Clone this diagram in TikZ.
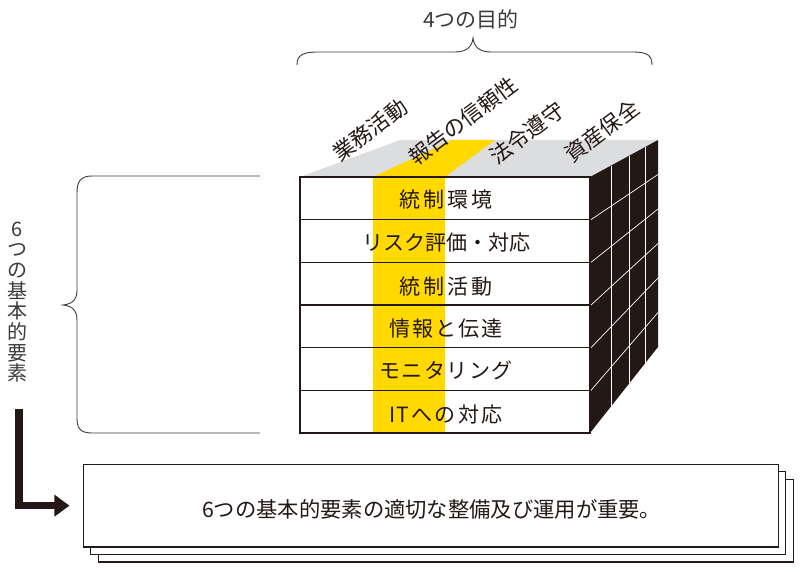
\documentclass[tikz,border=0pt]{standalone}
\usepackage{fontspec}
\setmainfont{Noto Sans CJK JP}
\usetikzlibrary{arrows.meta}
\definecolor{ink}{RGB}{35,24,21}
\definecolor{gline}{RGB}{62,58,57}
\definecolor{topgrey}{RGB}{220,221,222}
\definecolor{band}{RGB}{255,217,0}
\begin{document}
\begin{tikzpicture}[x=1pt,y=-1pt,
  rowline/.style={draw=ink,line width=1.1pt},
  rowtext/.style={font=\fontsize{21}{24}\selectfont,text=ink,inner sep=0pt},
  toplabel/.style={font=\fontsize{21.5}{24}\selectfont,text=ink,rotate=37,inner sep=0pt},
  titletext/.style={font=\fontsize{21}{24}\selectfont,text=gline,inner sep=0pt},
  brace/.style={draw=gline,line width=0.9pt},
  whiteline/.style={draw=white,line width=0.9pt},
  paper/.style={draw=ink,fill=white,line width=1.1pt,minimum width=695pt,minimum height=82.7pt,inner sep=0pt},
  bigarrow/.style={draw=ink,line width=7.5pt,-{Triangle[length=15pt,width=21pt]}}
]
\useasboundingbox (0,0) rectangle (803,572);
% top face
\fill[topgrey] (300,177) -- (400,140) -- (658,140) -- (590,177) -- cycle;
\fill[band] (373,177) -- (452,140) -- (495,140) -- (445,177) -- cycle;
% right face
\fill[ink] (590,177) -- (658,140) -- (658,347) -- (590,433) -- cycle;
\draw[whiteline] (611,165.6) -- (611,406.4);
\draw[whiteline] (629.3,155.6) -- (629.3,383.3);
\draw[whiteline] (645,147.1) -- (645,363.4);
\foreach \k in {1,...,5}
  \draw[whiteline,line width=0.7pt] (591,{177+42.667*\k}) -- (658,{140+34.5*\k});
% front face
\fill[white] (300,177) rectangle (590,433);
\fill[band] (373,177) rectangle (445,433);
\foreach \k in {1,...,5}
  \draw[rowline] (300,{177+42.667*\k}) -- (590,{177+42.667*\k});
\draw[rowline] (300,177) rectangle (590,433);
% row texts
\node[rowtext] (r1) at (446,200) {統\kern3pt 制\kern3pt 環\kern3pt 境};
\node[rowtext] (r2) at (446,242.7) {リスク評価・対応};
\node[rowtext] (r3) at (446,286.7) {統\kern3pt 制\kern3pt 活\kern3pt 動};
\node[rowtext] (r4) at (446,328.3) {情\kern2.2pt 報\kern2.2pt と\kern2.2pt 伝\kern2.2pt 達};
\node[rowtext] (r5) at (446,370) {モ\kern1.6pt ニ\kern1.6pt タ\kern1.6pt リ\kern1.6pt ン\kern1.6pt グ};
\node[rowtext] (r6) at (446,415) {I\kern1pt T\kern2.5pt へ\kern2.5pt の\kern2.5pt 対\kern2.5pt 応};
% top labels
\node[toplabel] (t1) at (370,130) {業務活動};
\node[toplabel] (t2) at (463,121) {報告の信頼性};
\node[toplabel] (t3) at (527,133) {法令遵守};
\node[toplabel] (t4) at (602,131) {資産保全};
% top brace and title
\draw[brace] (297,65) .. controls (297,55) and (303,52) .. (318,52) -- (455,52)
  .. controls (465,52) and (472,48) .. (473,38)
  .. controls (474,48) and (481,52) .. (491,52) -- (632,52)
  .. controls (647,52) and (652,55) .. (652,65);
\node[titletext] (title) at (471,19) {4つの目的};
% left brace and vertical text
\draw[brace] (260,176) -- (92,176) .. controls (80,176) and (77,182) .. (77,193) -- (77,290)
  .. controls (77,300) and (72,304) .. (63,305)
  .. controls (72,306) and (77,310) .. (77,320) -- (77,418)
  .. controls (77,428) and (80,433) .. (92,433) -- (260,433);
\node[font=\fontsize{20}{20.7}\selectfont,text=gline,align=center,inner sep=0pt] (vt) at (17,302)
  {6\\つ\\の\\基\\本\\的\\要\\素};
% stacked papers
\node[paper] (b3) at (445.8,520.6) {};
\node[paper] (b2) at (438.3,513.15) {};
\node[paper] (b1) at (430.8,505.65) {};
\node[font=\fontsize{21.3}{24}\selectfont,text=ink,inner sep=0pt] (msg) at (431.7,509)
  {6つの基本的要素の適切な整備及び運用が重要。};
% arrow
\coordinate (arrs) at (18.75,409);
\draw[bigarrow] (arrs) |- ([xshift=-13.3pt]b1.west);
\end{tikzpicture}
\end{document}
